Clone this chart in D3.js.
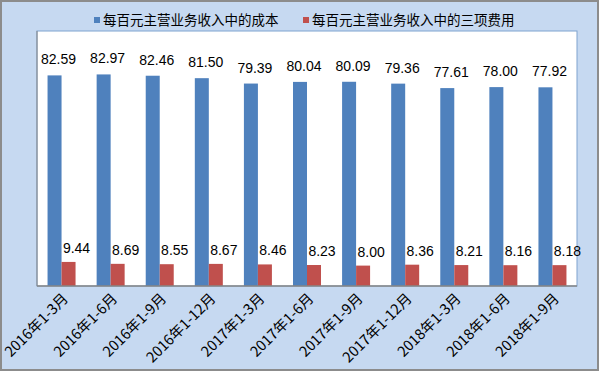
<!DOCTYPE html>
<html>
<head>
<meta charset="utf-8">
<script src="https://cdn.jsdelivr.net/npm/d3@7"></script>
<style>
  body { margin: 0; }
  svg { display: block; }
</style>
</head>
<body>
<svg id="chart" width="600" height="372"></svg>
<script>
var categories = ["2016年1-3月", "2016年1-6月", "2016年1-9月", "2016年1-12月",
    "2017年1-3月", "2017年1-6月", "2017年1-9月", "2017年1-12月",
    "2018年1-3月", "2018年1-6月", "2018年1-9月"];
var costValues = [82.59, 82.97, 82.46, 81.50, 79.39, 80.04, 80.09, 79.36, 77.61, 78.00, 77.92];
var feeValues = [9.44, 8.69, 8.55, 8.67, 8.46, 8.23, 8.00, 8.36, 8.21, 8.16, 8.18];
var seriesNames = ["每百元主营业务收入中的成本", "每百元主营业务收入中的三项费用"];
var colors = ["#4f81bd", "#c0504d"];

var svg = d3.select("#chart");
var W = 600, H = 372;
var plot = {left: 37, right: 577, top: 31, bottom: 286};
var cjk = "'Noto Sans CJK SC', sans-serif";
var num = "'Liberation Sans', 'Noto Sans', sans-serif";

// background + border
svg.append("rect")
    .attr("x", 1).attr("y", 1)
    .attr("width", W - 3).attr("height", H - 3)
    .attr("fill", "#c6d9f1")
    .attr("stroke", "#8c8c8c")
    .attr("stroke-width", 2);

svg.append("rect")
    .attr("x", plot.left).attr("y", plot.top)
    .attr("width", plot.right - plot.left)
    .attr("height", plot.bottom - plot.top)
    .attr("fill", "#fff")
    .attr("stroke", "#7fa3cf")
    .attr("stroke-width", 1);

var x = d3.scaleBand()
    .domain(categories)
    .range([plot.left, plot.right]);

var y = d3.scaleLinear()
    .domain([0, 100])
    .range([plot.bottom, plot.top]);

var barW = 14;

var g = svg.selectAll(".cat")
    .data(categories)
    .enter()
    .append("g")
        .attr("class", "cat");

// cost bars
g.append("rect")
    .attr("x", function(d) { return x(d) + x.bandwidth() / 2 - barW; })
    .attr("y", function(d, i) { return y(costValues[i]); })
    .attr("width", barW)
    .attr("height", function(d, i) { return y(0) - y(costValues[i]); })
    .attr("fill", colors[0]);

// fee bars
g.append("rect")
    .attr("x", function(d) { return x(d) + x.bandwidth() / 2; })
    .attr("y", function(d, i) { return y(feeValues[i]); })
    .attr("width", barW)
    .attr("height", function(d, i) { return y(0) - y(feeValues[i]); })
    .attr("fill", colors[1]);

// value labels
g.append("text")
    .attr("x", function(d) { return x(d) + x.bandwidth() / 2 - barW / 2 + 4; })
    .attr("y", function(d, i) { return y(costValues[i]) - 11; })
    .attr("text-anchor", "middle")
    .style("font-family", num)
    .style("font-size", "14px")
    .attr("fill", "#000")
    .text(function(d, i) { return costValues[i].toFixed(2); });

g.append("text")
    .attr("x", function(d) { return x(d) + x.bandwidth() / 2 + barW / 2 + 8; })
    .attr("y", function(d, i) { return y(feeValues[i]) - 9; })
    .attr("text-anchor", "middle")
    .style("font-family", num)
    .style("font-size", "14px")
    .attr("fill", "#000")
    .text(function(d, i) { return feeValues[i].toFixed(2); });

// x axis line
svg.append("line")
    .attr("x1", plot.left).attr("x2", plot.right)
    .attr("y1", plot.bottom).attr("y2", plot.bottom)
    .attr("stroke", "#868686")
    .attr("stroke-width", 1.5);

svg.append("line")
    .attr("x1", plot.left).attr("x2", plot.left)
    .attr("y1", plot.top).attr("y2", plot.bottom)
    .attr("stroke", "#868686");

// x labels rotated
g.append("text")
    .attr("transform", function(d) {
        return "translate(" + (x(d) + x.bandwidth() / 2 + 4) + "," + (plot.bottom + 10) + ") rotate(-45)";
    })
    .attr("text-anchor", "end")
    .attr("dy", "0.35em")
    .style("font-family", cjk)
    .style("font-size", "14.5px")
    .attr("fill", "#000")
    .text(function(d) { return d; });

// legend
var legendX = [94, 303];
var legend = svg.selectAll(".legend")
    .data(seriesNames)
    .enter()
    .append("g")
        .attr("class", "legend")
        .attr("transform", function(d, i) { return "translate(" + legendX[i] + ",20)"; });

legend.append("rect")
    .attr("x", 0).attr("y", -3)
    .attr("width", 6).attr("height", 6)
    .attr("fill", function(d, i) { return colors[i]; });

legend.append("text")
    .attr("x", 9)
    .attr("dy", "0.35em")
    .style("font-family", cjk)
    .style("font-size", "13.5px")
    .attr("fill", "#000")
    .text(function(d) { return d; });
</script>
</body>
</html>
